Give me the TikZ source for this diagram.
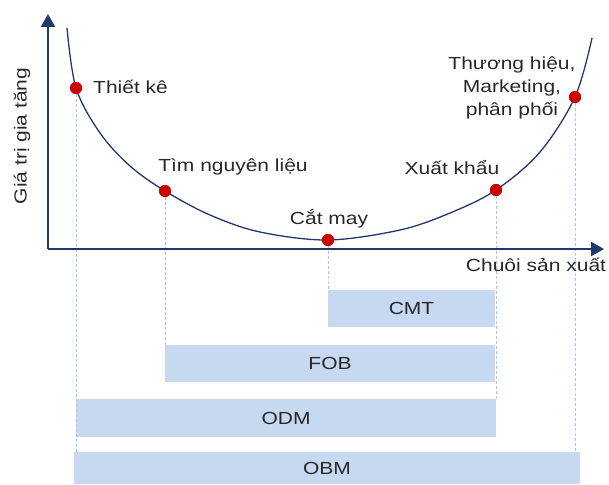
\documentclass[tikz,border=0pt]{standalone}
\usepackage{fontspec}
\setmainfont[FakeStretch=1.2]{Liberation Sans}
\usetikzlibrary{arrows.meta}
\definecolor{axisblue}{RGB}{31,56,110}
\definecolor{curveblue}{RGB}{35,55,110}
\definecolor{dotred}{RGB}{205,0,0}
\definecolor{barfill}{RGB}{198,217,240}
\definecolor{guide}{RGB}{170,195,235}
\definecolor{txt}{RGB}{40,40,40}
\tikzset{
  axisline/.style={draw=axisblue, line width=2.4pt, -{Triangle[width=14pt,length=13pt]}},
  dotnode/.style={circle, fill=dotred, inner sep=0pt, minimum size=12pt},
  lbl/.style={font=\fontsize{17.5}{23}\selectfont, text=txt, inner sep=0pt},
  barnode/.style={fill=barfill, inner sep=0pt, font=\fontsize{17.5}{21}\selectfont, text=txt},
  guideline/.style={draw=guide, line width=0.8pt, dash pattern=on 3pt off 2pt}
}
\begin{document}
\begin{tikzpicture}[x=1pt,y=-1pt]
\useasboundingbox (0,0) rectangle (609,484);
% bars
\node[barnode, minimum width=167pt, minimum height=37pt] (cmt) at (411.5,308.5) {CMT};
\node[barnode, minimum width=330pt, minimum height=37pt] (fob) at (330,363.5) {FOB};
\node[barnode, minimum width=420pt, minimum height=38pt] (odm) at (286,418) {ODM};
\node[barnode, minimum width=506pt, minimum height=32pt] (obm) at (327,468) {OBM};
% curve
\draw[curveblue, line width=1.3pt] plot[smooth, tension=0.55] coordinates {
 (67,28) (76,88) (100,133) (130,166) (165,191) (210,215) (260,232) (328,240)
 (400,230) (450,213) (496,190) (540,152) (575,97) (592,38)};
% dots
\node[dotnode] (d1) at (76,88) {};
\node[dotnode] (d2) at (165,191) {};
\node[dotnode] (d3) at (328,240) {};
\node[dotnode] (d4) at (496,190) {};
\node[dotnode] (d5) at (575,97) {};
% guide lines
\draw[guideline] (d1) -- (d1 |- obm.north);
\draw[guideline] (d2) -- (d2 |- fob.north);
\draw[guideline] (d3) -- (d3 |- cmt.north);
\draw[guideline] (d4) -- (d4 |- odm.north);
\draw[guideline] (d5) -- (d5 |- obm.north);
% axes
\coordinate (o) at (48,249);
\coordinate (ytip) at (48,14);
\coordinate (xtip) at (604,249);
\draw[axisline] (o) -- (ytip);
\draw[axisline] (o) -- (xtip);
% redraw dots on top of guides
\node[dotnode] at (d1) {};
\node[dotnode] at (d2) {};
\node[dotnode] at (d3) {};
\node[dotnode] at (d4) {};
\node[dotnode] at (d5) {};
% labels
\node[lbl, anchor=west] (l1) at (93,87) {Thiết kê};
\node[lbl] (l2) at (233,167) {Tìm nguyên liệu};
\node[lbl] (l3) at (329,219) {Cắt may};
\node[lbl] (l4) at (452,168) {Xuất khẩu};
\node[lbl, align=center] (l5) at (512,88) {Thương hiệu,\\Marketing,\\phân phối};
\node[lbl] (xl) at (536,265) {Chuôi sản xuất};
\node[lbl, rotate=90] (yl) at (22,136) {Giá trị gia tăng};
\end{tikzpicture}
\end{document}
